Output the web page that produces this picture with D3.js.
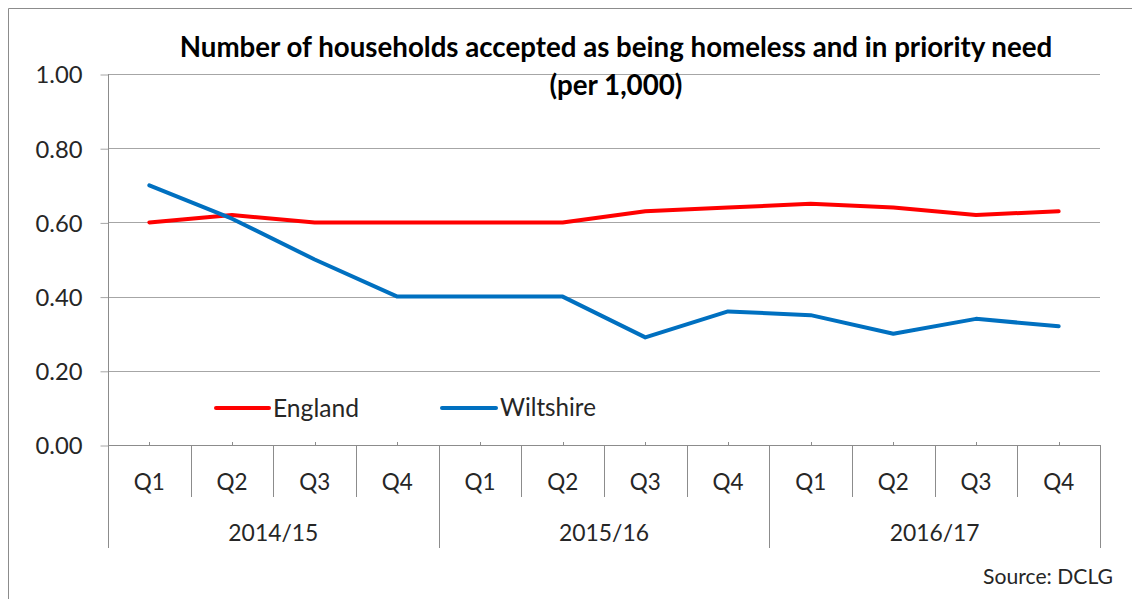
<!DOCTYPE html>
<html>
<head>
<meta charset="utf-8">
<script src="https://cdn.jsdelivr.net/npm/d3@7"></script>
<style>
  html, body { margin: 0; padding: 0; background: #ffffff; }
  svg { display: block; }
  text { font-family: Lato, "Open Sans", sans-serif; fill: #262626; }
</style>
</head>
<body>
<svg id="chart" width="1132" height="599"></svg>
<script>
// Quarterly categories, grouped by financial year
const quarters = ["Q1","Q2","Q3","Q4","Q1","Q2","Q3","Q4","Q1","Q2","Q3","Q4"];
const years = ["2014/15","2015/16","2016/17"];
// Households accepted as homeless and in priority need, per 1,000
const england   = [0.60, 0.62, 0.60, 0.60, 0.60, 0.60, 0.63, 0.64, 0.65, 0.64, 0.62, 0.63];
const wiltshire = [0.70, 0.61, 0.50, 0.40, 0.40, 0.40, 0.29, 0.36, 0.35, 0.30, 0.34, 0.32];
const yTicks = [0, 0.2, 0.4, 0.6, 0.8, 1.0];
const seriesNames = ["England", "Wiltshire"];
const seriesColors = ["#ff0000", "#0070c0"];

const svg = d3.select("#chart");

// Fit a text element's font size so its rendered width equals the target
function fitWidth(sel, target) {
  const node = sel.node();
  const w = node.getComputedTextLength();
  const fs = parseFloat(sel.attr("font-size"));
  sel.attr("font-size", fs * target / w);
}

// Chart frame (top and left edges visible)
svg.append("path")
  .attr("d", "M8.5,599 L8.5,8.5 L1132,8.5")
  .attr("fill", "none").attr("stroke", "#8c8c8c").attr("stroke-width", 1);

const plot = { left: 108, right: 1100, top: 74, bottom: 445 };

const x = d3.scaleBand().domain(d3.range(quarters.length)).range([plot.left, plot.right]).padding(0);
const cx = i => x(i) + x.bandwidth() / 2;
const y = d3.scaleLinear().domain([0, 1]).range([plot.bottom, plot.top]);

// Horizontal gridlines
svg.append("g").selectAll("line").data(yTicks.filter(d => d > 0)).join("line")
  .attr("x1", plot.left).attr("x2", plot.right)
  .attr("y1", d => Math.round(y(d)) + 0.5).attr("y2", d => Math.round(y(d)) + 0.5)
  .attr("stroke", "#a6a6a6").attr("stroke-width", 1);

// Y axis
const yAxis = svg.append("g")
  .attr("transform", `translate(${plot.left + 0.5},0.5)`)
  .call(d3.axisLeft(y).tickValues(yTicks).tickFormat(d3.format(".2f")).tickSize(8).tickSizeOuter(0).tickPadding(18));
yAxis.select(".domain").remove();
yAxis.selectAll(".tick line").attr("stroke", "#a6a6a6");
yAxis.selectAll(".tick text")
  .attr("font-size", 18).attr("fill", "#262626").attr("font-family", "Lato, sans-serif")
  .attr("dy", "0.35em");
yAxis.selectAll(".tick text").each(function() { fitWidth(d3.select(this), 47); });

// Vertical axis line, extending down through the category labels
svg.append("line")
  .attr("x1", plot.left + 0.5).attr("x2", plot.left + 0.5)
  .attr("y1", plot.top).attr("y2", 548)
  .attr("stroke", "#8c8c8c");

// Category axis baseline
svg.append("line")
  .attr("x1", plot.left).attr("x2", plot.right)
  .attr("y1", plot.bottom + 0.5).attr("y2", plot.bottom + 0.5)
  .attr("stroke", "#8c8c8c");

// Small tick marks at category centres
svg.append("g").selectAll("line").data(d3.range(quarters.length)).join("line")
  .attr("x1", i => Math.round(cx(i)) + 0.5).attr("x2", i => Math.round(cx(i)) + 0.5)
  .attr("y1", plot.bottom - 3).attr("y2", plot.bottom)
  .attr("stroke", "#8c8c8c");

// Separators between quarters and between years
const bounds = d3.range(1, quarters.length + 1);
svg.append("g").selectAll("line").data(bounds).join("line")
  .attr("x1", i => Math.round(i === quarters.length ? plot.right : x(i)) + 0.5)
  .attr("x2", i => Math.round(i === quarters.length ? plot.right : x(i)) + 0.5)
  .attr("y1", plot.bottom)
  .attr("y2", i => i % 4 === 0 ? 548 : 497)
  .attr("stroke", "#8c8c8c");

// Quarter labels
svg.append("g").selectAll("text").data(quarters).join("text")
  .attr("x", (d, i) => cx(i)).attr("y", 482)
  .attr("text-anchor", "middle").attr("dy", "0.35em")
  .attr("font-size", 18)
  .text(d => d)
  .each(function() { fitWidth(d3.select(this), 31); });

// Year labels
svg.append("g").selectAll("text").data(years).join("text")
  .attr("x", (d, i) => (x(i * 4) + (i * 4 + 4 === quarters.length ? plot.right : x(i * 4 + 4))) / 2)
  .attr("y", 533)
  .attr("text-anchor", "middle").attr("dy", "0.35em")
  .attr("font-size", 18)
  .text(d => d)
  .each(function() { fitWidth(d3.select(this), 90); });

// Series lines
const line = d3.line().x((d, i) => cx(i)).y(d => y(d));
[england, wiltshire].forEach((vals, k) => {
  svg.append("path")
    .datum(vals)
    .attr("d", line)
    .attr("fill", "none")
    .attr("stroke", seriesColors[k])
    .attr("stroke-width", 4)
    .attr("stroke-linejoin", "round")
    .attr("stroke-linecap", "round");
});

// Legend
const legendItems = [
  { name: seriesNames[0], color: seriesColors[0], x0: 216, x1: 269, tx: 273, w: 86 },
  { name: seriesNames[1], color: seriesColors[1], x0: 442, x1: 496, tx: 500, w: 96 }
];
const lg = svg.append("g").selectAll("g").data(legendItems).join("g");
lg.append("line")
  .attr("x1", d => d.x0).attr("x2", d => d.x1)
  .attr("y1", 408).attr("y2", 408)
  .attr("stroke", d => d.color).attr("stroke-width", 4).attr("stroke-linecap", "round");
lg.append("text")
  .attr("x", d => d.tx).attr("y", 408).attr("dy", "0.35em")
  .attr("font-size", 19)
  .text(d => d.name)
  .each(function(d) { fitWidth(d3.select(this), d.w); });

// Title
const t1 = svg.append("text")
  .attr("x", 616).attr("y", 47).attr("dy", "0.35em")
  .attr("text-anchor", "middle").attr("font-weight", "bold").attr("font-size", 20)
  .style("fill", "#000")
  .text("Number of households accepted as being homeless and in priority need");
fitWidth(t1, 873);
const t2 = svg.append("text")
  .attr("x", 616).attr("y", 85).attr("dy", "0.35em")
  .attr("text-anchor", "middle").attr("font-weight", "bold").attr("font-size", 20)
  .style("fill", "#000")
  .text("(per 1,000)");
fitWidth(t2, 133);

// Source note
const src = svg.append("text")
  .attr("x", 1113).attr("y", 577).attr("dy", "0.35em")
  .attr("text-anchor", "end").attr("font-size", 17)
  .text("Source: DCLG");
fitWidth(src, 130);
</script>
</body>
</html>
